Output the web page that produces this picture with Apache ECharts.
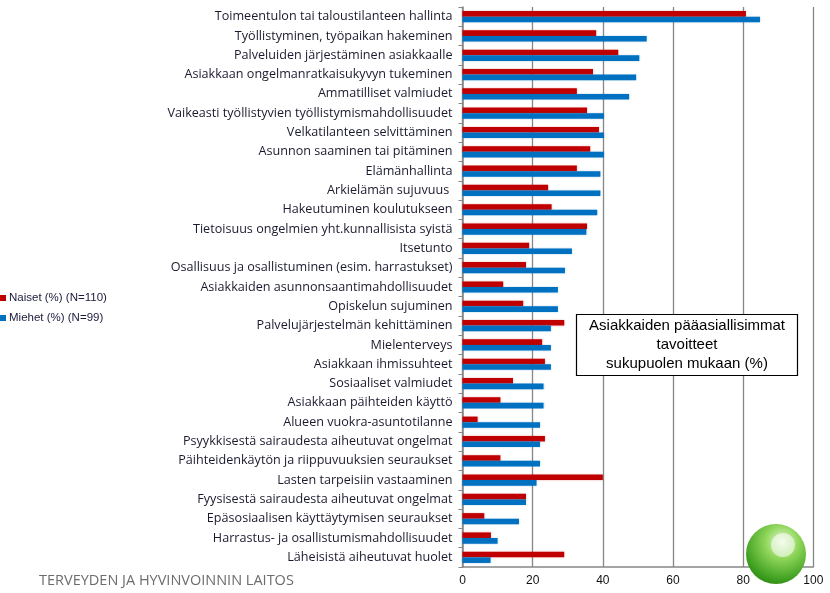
<!DOCTYPE html>
<html>
<head>
<meta charset="utf-8">
<script src="https://cdn.jsdelivr.net/npm/echarts@6/dist/echarts.min.js"></script>
<style>html,body{margin:0;padding:0;background:#fff}#c{width:830px;height:593px}</style>
</head>
<body>
<div id="c"></div>
<script>
const categories = [
  "Toimeentulon tai taloustilanteen hallinta",
  "Työllistyminen, työpaikan hakeminen",
  "Palveluiden järjestäminen asiakkaalle",
  "Asiakkaan ongelmanratkaisukyvyn tukeminen",
  "Ammatilliset valmiudet",
  "Vaikeasti työllistyvien työllistymismahdollisuudet",
  "Velkatilanteen selvittäminen",
  "Asunnon saaminen tai pitäminen",
  "Elämänhallinta",
  "Arkielämän sujuvuus ",
  "Hakeutuminen koulutukseen",
  "Tietoisuus ongelmien yht.kunnallisista syistä",
  "Itsetunto",
  "Osallisuus ja osallistuminen (esim. harrastukset)",
  "Asiakkaiden asunnonsaantimahdollisuudet",
  "Opiskelun sujuminen",
  "Palvelujärjestelmän kehittäminen",
  "Mielenterveys",
  "Asiakkaan ihmissuhteet",
  "Sosiaaliset valmiudet",
  "Asiakkaan päihteiden käyttö",
  "Alueen vuokra-asuntotilanne",
  "Psyykkisestä sairaudesta aiheutuvat ongelmat",
  "Päihteidenkäytön ja riippuvuuksien seuraukset",
  "Lasten tarpeisiin vastaaminen",
  "Fyysisestä sairaudesta aiheutuvat ongelmat",
  "Epäsosiaalisen käyttäytymisen seuraukset",
  "Harrastus- ja osallistumismahdollisuudet",
  "Läheisistä aiheutuvat huolet"
];
const naiset = [80.8, 38.1, 44.4, 37.2, 32.6, 35.5, 38.9, 36.4, 32.6, 24.4, 25.4, 35.5, 19.0, 18.1, 11.6, 17.3, 29.0, 22.7, 23.5, 14.4, 10.8, 4.3, 23.5, 10.8, 40.0, 18.1, 6.2, 8.1, 29.0];
const miehet = [84.8, 52.5, 50.4, 49.5, 47.5, 40.3, 40.3, 40.3, 39.3, 39.3, 38.4, 35.3, 31.2, 29.2, 27.2, 27.2, 25.2, 25.2, 25.2, 23.1, 23.1, 22.1, 22.1, 22.1, 21.1, 18.1, 16.1, 10.0, 8.0];
const seriesNames = ["Naiset (%) (N=110)", "Miehet (%) (N=99)"];
const xTicks = [0, 20, 40, 60, 80, 100];

const chart = echarts.init(document.getElementById('c'), null, {renderer: 'canvas'});
const labelFont = "'Open Sans', Lato, 'Liberation Sans', sans-serif";
chart.setOption({
  animation: false,
  backgroundColor: '#ffffff',
  grid: {left: 462.5, right: 16.7, top: 7, bottom: 26, containLabel: false},
  legend: {
    orient: 'vertical', left: 0, top: 292, padding: 0,
    itemWidth: 6, itemHeight: 6, itemGap: 8, icon: 'rect',
    textStyle: {fontFamily: "'Liberation Sans', Arial, sans-serif", fontSize: 11.5, color: '#1a1a3a', padding: [0,0,0,-2]},
    data: seriesNames
  },
  xAxis: {
    type: 'value', min: xTicks[0], max: xTicks[xTicks.length-1], interval: 20,
    axisLine: {show: true, lineStyle: {color: '#868686', width: 1.5}},
    axisTick: {show: false},
    splitLine: {show: true, lineStyle: {color: '#868686', width: 1.3}},
    axisLabel: {fontFamily: "'Liberation Sans', Arial, sans-serif", fontSize: 12, color: '#111', margin: 8}
  },
  yAxis: {
    type: 'category', inverse: true, data: categories,
    axisLine: {show: true, lineStyle: {color: '#868686', width: 1.5}},
    axisTick: {show: true, inside: false, length: 4, lineStyle: {color: '#868686'}},
    axisLabel: {fontFamily: labelFont, fontSize: 12.6, color: '#1a1a2e', margin: 10}
  },
  series: [
    {name: seriesNames[0], type: 'bar', data: naiset, barWidth: 5.6, barGap: '0%',
     itemStyle: {color: '#C00000', shadowColor: 'rgba(192,0,0,0.35)', shadowBlur: 2}},
    {name: seriesNames[1], type: 'bar', data: miehet, barWidth: 5.6, barGap: '0%',
     itemStyle: {color: '#0070C0', shadowColor: 'rgba(0,112,192,0.35)', shadowBlur: 2}}
  ],
  graphic: [
    {type: 'rect', shape: {x: 576.5, y: 314.5, width: 221, height: 61}, style: {fill: '#fff', stroke: '#000', lineWidth: 1.2}, z: 10},
    {type: 'text', x: 687, y: 345, z: 11, style: {text: 'Asiakkaiden pääasiallisimmat\ntavoitteet\nsukupuolen mukaan (%)', align: 'center', verticalAlign: 'middle', font: "15px 'Liberation Sans', Arial, sans-serif", lineHeight: 19, fill: '#000'}},
    {type: 'text', x: 39, y: 581, style: {text: 'TERVEYDEN JA HYVINVOINNIN LAITOS', verticalAlign: 'middle', font: "14.5px 'Open Sans', 'Liberation Sans', sans-serif", fill: '#6d6d6d'}},
    {type: 'ellipse', shape: {cx: 760, cy: 573, rx: 28, ry: 8}, style: {fill: {type: 'radial', x: 0.5, y: 0.5, r: 0.5, colorStops: [{offset: 0, color: 'rgba(120,200,60,0.6)'}, {offset: 1, color: 'rgba(160,220,120,0)'}]}}, z: 20},
    {type: 'circle', shape: {cx: 776, cy: 554, r: 30}, style: {fill: {type: 'radial', x: 0.6, y: 0.3, r: 0.8, colorStops: [{offset: 0, color: '#e8f8d8'}, {offset: 0.35, color: '#8fd65a'}, {offset: 0.8, color: '#3d9e1e'}, {offset: 1, color: '#2c7d14'}]}}, z: 21},
    {type: 'circle', shape: {cx: 783, cy: 545, r: 12}, style: {fill: 'rgba(255,255,255,0.55)'}, z: 22}
  ]
});
</script>
</body>
</html>
